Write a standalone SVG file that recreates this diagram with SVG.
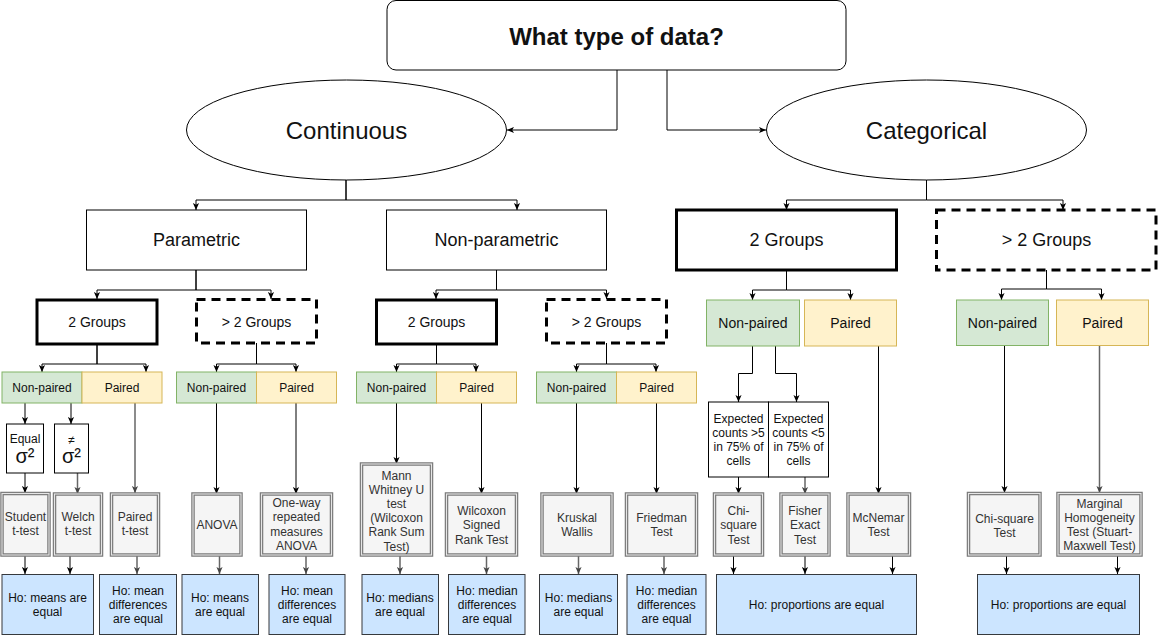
<svg xmlns="http://www.w3.org/2000/svg" width="1158" height="635" viewBox="0 0 1158 635">
<style>
.box{fill:#fff;stroke:#000;stroke-width:1}
.thick{fill:#fff;stroke:#000;stroke-width:3}
.dash{fill:#fff;stroke:#000;stroke-width:3;stroke-dasharray:9 6}
.np{fill:#d5e8d4;stroke:#82b366;stroke-width:1}
.pr{fill:#fff2cc;stroke:#d6b656;stroke-width:1}
.test{fill:#f5f5f5;stroke:#7a7a7a;stroke-width:3.5}
.testin{fill:none;stroke:#e6e6e6;stroke-width:1.1}
.ho{fill:#cce5ff;stroke:#36393d;stroke-width:1}
.t{font-family:"Liberation Sans",Arial,sans-serif;text-anchor:middle;fill:#111}
.tg{fill:#333}
.s12{font-size:12px}
.s14{font-size:14px}
.s18{font-size:18px}
.s24{font-size:24px}
.e{fill:none;stroke:#000;stroke-width:1;marker-end:url(#a)}
.eg{fill:none;stroke:#666;stroke-width:1.5;marker-end:url(#ag)}
</style>
<defs>
<marker id="a" viewBox="0 0 8 8" refX="8" refY="4" markerWidth="7" markerHeight="7" markerUnits="userSpaceOnUse" orient="auto"><path d="M0,0.5 L8,4 L0,7.5 L2,4 z" fill="#000"/></marker>
<marker id="ag" viewBox="0 0 8 8" refX="8" refY="4" markerWidth="7" markerHeight="7" markerUnits="userSpaceOnUse" orient="auto"><path d="M0,0.5 L8,4 L0,7.5 L2,4 z" fill="#444"/></marker>
</defs>

<g id="connectors">
<path class="e" d="M617,70 V130 H507"/>
<path class="e" d="M667,70 V130 H766"/>
<path class="e" d="M346,180 V200 H196 V210"/>
<path class="e" d="M346,180 V200 H517 V210"/>
<path class="e" d="M926.5,180 V200 H786.5 V210"/>
<path class="e" d="M926.5,180 V200 H1063 V210"/>
<path class="e" d="M196,270 V290 H97 V299"/>
<path class="e" d="M196,270 V290 H271 V299"/>
<path class="e" d="M496.5,270 V290 H436 V299"/>
<path class="e" d="M496.5,270 V290 H606.5 V299"/>
<path class="e" d="M786.5,270 V290 H752.5 V300"/>
<path class="e" d="M786.5,270 V290 H850.5 V300"/>
<path class="e" d="M1046.5,270 V289 H1001.5 V300"/>
<path class="e" d="M1046.5,270 V289 H1101.5 V300"/>
<path class="e" d="M97,344 V364 H42 V372"/>
<path class="e" d="M97,344 V364 H146 V372"/>
<path class="e" d="M256.5,343 V364 H216.5 V372"/>
<path class="e" d="M256.5,343 V364 H296 V372"/>
<path class="e" d="M436.5,344 V364 H396.5 V372"/>
<path class="e" d="M436.5,344 V364 H476 V372"/>
<path class="e" d="M606.5,343 V364 H576.5 V372"/>
<path class="e" d="M606.5,343 V364 H656 V372"/>
<path class="e" d="M25,403 V424"/>
<path class="e" d="M71,403 V424"/>
<path class="e" d="M25,473 V493"/>
<path class="eg" d="M77.5,473 V494"/>
<path class="eg" d="M135,403 V493"/>
<path class="e" d="M25,555 V574"/>
<path class="e" d="M70,555 V574"/>
<path class="eg" d="M137,555 V574"/>
<path class="e" d="M216.5,403 V494"/>
<path class="e" d="M296,403 V494"/>
<path class="eg" d="M219.5,555 V574"/>
<path class="eg" d="M306,555 V574"/>
<path class="e" d="M396.5,403 V464"/>
<path class="e" d="M481.5,403 V494"/>
<path class="eg" d="M400,555 V574"/>
<path class="eg" d="M486.5,555 V574"/>
<path class="e" d="M576.5,403 V494"/>
<path class="e" d="M656.5,403 V494"/>
<path class="eg" d="M578.5,555 V574"/>
<path class="eg" d="M664,555 V574"/>
<path class="e" d="M752.5,346 V373.5 H738.5 V402"/>
<path class="e" d="M775.5,346 V373.5 H796.5 V402"/>
<path class="e" d="M738.5,477 V494"/>
<path class="eg" d="M805,477 V494"/>
<path class="e" d="M878.5,346 V494"/>
<path class="e" d="M733.5,555 V574"/>
<path class="e" d="M805,555 V574"/>
<path class="e" d="M892.5,555 V574"/>
<path class="e" d="M1004.5,346 V493"/>
<path class="eg" d="M1099.5,346 V493"/>
<path class="e" d="M1006.5,555 V574"/>
<path class="e" d="M1117.5,555 V574"/>
</g>

<g id="n-top"><rect class="box" x="387" y="0.5" width="459" height="69.5" rx="9"/><text class="t" x="616.5" y="44.5" style="font-size:24px;font-weight:bold">What type of data?</text></g>
<g id="n-continuous"><ellipse class="box" cx="346.5" cy="130" rx="160" ry="50"/><text class="t s24" x="346.5" y="138.5">Continuous</text></g>
<g id="n-categorical"><ellipse class="box" cx="926.5" cy="130" rx="160" ry="50"/><text class="t s24" x="926.5" y="138.5">Categorical</text></g>

<g id="n-parametric"><rect class="box" x="86.5" y="210" width="220" height="60"/><text class="t s18" x="196.5" y="246.3">Parametric</text></g>
<g id="n-nonparametric"><rect class="box" x="386.5" y="210" width="220" height="60"/><text class="t s18" x="496.5" y="246.3">Non-parametric</text></g>
<g id="n-cat2"><rect class="thick" x="676.5" y="210" width="220" height="60"/><text class="t s18" x="786.5" y="246.3">2 Groups</text></g>
<g id="n-catgt2"><rect class="dash" x="936.5" y="210" width="219.5" height="60"/><text class="t s18" x="1046.5" y="246.3">&gt; 2 Groups</text></g>

<g id="n-p2"><rect class="thick" x="37" y="300" width="120" height="44"/><text class="t s14" x="97" y="327">2 Groups</text></g>
<g id="n-pgt2"><rect class="dash" x="196.5" y="299.5" width="120" height="43.5"/><text class="t s14" x="256.5" y="326.5">&gt; 2 Groups</text></g>
<g id="n-n2"><rect class="thick" x="376.5" y="300" width="120" height="44"/><text class="t s14" x="436.5" y="327">2 Groups</text></g>
<g id="n-ngt2"><rect class="dash" x="546.5" y="299.5" width="120" height="43.5"/><text class="t s14" x="606.5" y="326.5">&gt; 2 Groups</text></g>

<g id="n-p2-np"><rect class="np" x="2" y="372" width="80" height="31"/><text class="t s12" x="42" y="391.7">Non-paired</text></g>
<g id="n-p2-pr"><rect class="pr" x="82" y="372" width="80" height="31"/><text class="t s12" x="122" y="391.7">Paired</text></g>
<g id="n-pgt2-np"><rect class="np" x="176.5" y="372" width="80" height="31"/><text class="t s12" x="216.5" y="391.7">Non-paired</text></g>
<g id="n-pgt2-pr"><rect class="pr" x="256.5" y="372" width="80" height="31"/><text class="t s12" x="296.5" y="391.7">Paired</text></g>
<g id="n-n2-np"><rect class="np" x="356.5" y="372" width="80" height="31"/><text class="t s12" x="396.5" y="391.7">Non-paired</text></g>
<g id="n-n2-pr"><rect class="pr" x="436.5" y="372" width="80" height="31"/><text class="t s12" x="476.5" y="391.7">Paired</text></g>
<g id="n-ngt2-np"><rect class="np" x="536.5" y="372" width="80" height="31"/><text class="t s12" x="576.5" y="391.7">Non-paired</text></g>
<g id="n-ngt2-pr"><rect class="pr" x="616.5" y="372" width="80" height="31"/><text class="t s12" x="656.5" y="391.7">Paired</text></g>
<g id="n-c2-np"><rect class="np" x="706.5" y="300" width="93" height="46"/><text class="t s14" x="753" y="328">Non-paired</text></g>
<g id="n-c2-pr"><rect class="pr" x="804.5" y="300" width="92" height="46"/><text class="t s14" x="850.5" y="328">Paired</text></g>
<g id="n-cgt2-np"><rect class="np" x="956.5" y="300" width="92" height="45.5"/><text class="t s14" x="1002.5" y="328">Non-paired</text></g>
<g id="n-cgt2-pr"><rect class="pr" x="1056.5" y="300" width="92" height="45.5"/><text class="t s14" x="1102.5" y="328">Paired</text></g>

<g id="n-equal"><rect class="box" x="6.5" y="424" width="37" height="49"/><text class="t s12" x="25" y="443">Equal</text><text class="t" x="25" y="463" style="font-size:20px">σ²</text></g>
<g id="n-neq"><rect class="box" x="54.5" y="424" width="34" height="49"/><text class="t s12" x="71.5" y="444">≠</text><text class="t" x="71.5" y="463" style="font-size:20px">σ²</text></g>
<g id="n-exp1"><rect class="box" x="708.5" y="402" width="60" height="75"/><text class="t s12" x="738.5" y="422.5">Expected<tspan x="738.5" dy="14.3">counts &gt;5</tspan><tspan x="738.5" dy="14.3">in 75% of</tspan><tspan x="738.5" dy="14.3">cells</tspan></text></g>
<g id="n-exp2"><rect class="box" x="768.5" y="402" width="60" height="75"/><text class="t s12" x="798.5" y="422.5">Expected<tspan x="798.5" dy="14.3">counts &lt;5</tspan><tspan x="798.5" dy="14.3">in 75% of</tspan><tspan x="798.5" dy="14.3">cells</tspan></text></g>

<g id="n-student"><rect class="test" x="2" y="493.5" width="47" height="61.5"/><rect class="testin" x="2" y="493.5" width="47" height="61.5"/><text class="t tg s12" x="25.5" y="521">Student<tspan x="25.5" dy="14">t-test</tspan></text></g>
<g id="n-welch"><rect class="test" x="54.5" y="494" width="47" height="61"/><rect class="testin" x="54.5" y="494" width="47" height="61"/><text class="t tg s12" x="78" y="521">Welch<tspan x="78" dy="14">t-test</tspan></text></g>
<g id="n-pairedt"><rect class="test" x="111.5" y="494" width="47" height="61"/><rect class="testin" x="111.5" y="494" width="47" height="61"/><text class="t tg s12" x="135" y="521">Paired<tspan x="135" dy="14">t-test</tspan></text></g>
<g id="n-anova"><rect class="test" x="193" y="494" width="48" height="61"/><rect class="testin" x="193" y="494" width="48" height="61"/><text class="t tg s12" x="217" y="528.5">ANOVA</text></g>
<g id="n-oneway"><rect class="test" x="261.5" y="494" width="70" height="61"/><rect class="testin" x="261.5" y="494" width="70" height="61"/><text class="t tg s12" x="296.5" y="507">One-way<tspan x="296.5" dy="14.3">repeated</tspan><tspan x="296.5" dy="14.3">measures</tspan><tspan x="296.5" dy="14.3">ANOVA</tspan></text></g>
<g id="n-mann"><rect class="test" x="361.5" y="464" width="70" height="91"/><rect class="testin" x="361.5" y="464" width="70" height="91"/><text class="t tg s12" x="396.5" y="479.5">Mann<tspan x="396.5" dy="14.2">Whitney U</tspan><tspan x="396.5" dy="14.2">test</tspan><tspan x="396.5" dy="14.2">(Wilcoxon</tspan><tspan x="396.5" dy="14.2">Rank Sum</tspan><tspan x="396.5" dy="14.2">Test)</tspan></text></g>
<g id="n-wilcoxon"><rect class="test" x="446.5" y="494" width="70" height="61"/><rect class="testin" x="446.5" y="494" width="70" height="61"/><text class="t tg s12" x="481.5" y="515">Wilcoxon<tspan x="481.5" dy="14.3">Signed</tspan><tspan x="481.5" dy="14.3">Rank Test</tspan></text></g>
<g id="n-kruskal"><rect class="test" x="542" y="494" width="70" height="61"/><rect class="testin" x="542" y="494" width="70" height="61"/><text class="t tg s12" x="577" y="521.5">Kruskal<tspan x="577" dy="14">Wallis</tspan></text></g>
<g id="n-friedman"><rect class="test" x="626.5" y="494" width="70" height="61"/><rect class="testin" x="626.5" y="494" width="70" height="61"/><text class="t tg s12" x="661.5" y="521.5">Friedman<tspan x="661.5" dy="14">Test</tspan></text></g>
<g id="n-chi1"><rect class="test" x="714.5" y="494" width="48" height="61"/><rect class="testin" x="714.5" y="494" width="48" height="61"/><text class="t tg s12" x="738.5" y="515">Chi-<tspan x="738.5" dy="14.3">square</tspan><tspan x="738.5" dy="14.3">Test</tspan></text></g>
<g id="n-fisher"><rect class="test" x="781" y="494" width="48" height="61"/><rect class="testin" x="781" y="494" width="48" height="61"/><text class="t tg s12" x="805" y="515">Fisher<tspan x="805" dy="14.3">Exact</tspan><tspan x="805" dy="14.3">Test</tspan></text></g>
<g id="n-mcnemar"><rect class="test" x="848" y="494" width="61.5" height="61"/><rect class="testin" x="848" y="494" width="61.5" height="61"/><text class="t tg s12" x="878.5" y="521.5">McNemar<tspan x="878.5" dy="14">Test</tspan></text></g>
<g id="n-chi2"><rect class="test" x="968.5" y="493.5" width="71.5" height="61.5"/><rect class="testin" x="968.5" y="493.5" width="71.5" height="61.5"/><text class="t tg s12" x="1004.5" y="522.5">Chi-square<tspan x="1004.5" dy="14">Test</tspan></text></g>
<g id="n-marginal"><rect class="test" x="1058" y="493.5" width="83" height="61.5"/><rect class="testin" x="1058" y="493.5" width="83" height="61.5"/><text class="t tg s12" x="1099.5" y="507.5">Marginal<tspan x="1099.5" dy="14.3">Homogeneity</tspan><tspan x="1099.5" dy="14.3">Test (Stuart-</tspan><tspan x="1099.5" dy="14.3">Maxwell Test)</tspan></text></g>

<g id="n-ho1"><rect class="ho" x="2" y="574.5" width="91.5" height="60"/><text class="t s12" x="47.5" y="601.5">Ho: means are<tspan x="47.5" dy="14.3">equal</tspan></text></g>
<g id="n-ho2"><rect class="ho" x="99.5" y="574.5" width="77" height="60"/><text class="t s12" x="138" y="594.5">Ho: mean<tspan x="138" dy="14.3">differences</tspan><tspan x="138" dy="14.3">are equal</tspan></text></g>
<g id="n-ho3"><rect class="ho" x="182" y="574.5" width="76.5" height="60"/><text class="t s12" x="220" y="601.5">Ho: means<tspan x="220" dy="14.3">are equal</tspan></text></g>
<g id="n-ho4"><rect class="ho" x="269" y="574.5" width="76" height="60"/><text class="t s12" x="307" y="594.5">Ho: mean<tspan x="307" dy="14.3">differences</tspan><tspan x="307" dy="14.3">are equal</tspan></text></g>
<g id="n-ho5"><rect class="ho" x="362" y="574.5" width="76.5" height="60"/><text class="t s12" x="400" y="601.5">Ho: medians<tspan x="400" dy="14.3">are equal</tspan></text></g>
<g id="n-ho6"><rect class="ho" x="448.5" y="574.5" width="76.5" height="60"/><text class="t s12" x="487" y="594.5">Ho: median<tspan x="487" dy="14.3">differences</tspan><tspan x="487" dy="14.3">are equal</tspan></text></g>
<g id="n-ho7"><rect class="ho" x="539.5" y="574.5" width="78" height="60"/><text class="t s12" x="578.5" y="601.5">Ho: medians<tspan x="578.5" dy="14.3">are equal</tspan></text></g>
<g id="n-ho8"><rect class="ho" x="627" y="574.5" width="79" height="60"/><text class="t s12" x="666.5" y="594.5">Ho: median<tspan x="666.5" dy="14.3">differences</tspan><tspan x="666.5" dy="14.3">are equal</tspan></text></g>
<g id="n-ho9"><rect class="ho" x="716.5" y="574.5" width="200" height="60"/><text class="t s12" x="816.5" y="608.5">Ho: proportions are equal</text></g>
<g id="n-ho10"><rect class="ho" x="977.5" y="574.5" width="162" height="60"/><text class="t s12" x="1058.5" y="608.5">Ho: proportions are equal</text></g>
</svg>
